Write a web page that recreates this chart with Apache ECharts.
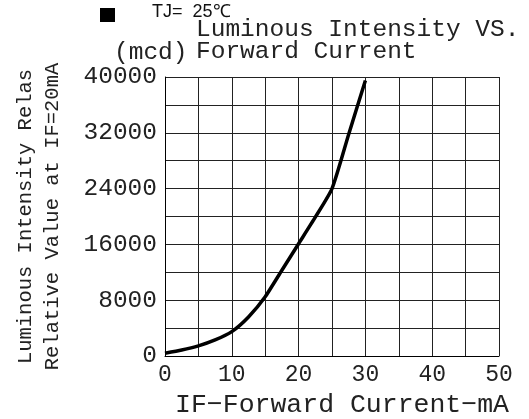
<!DOCTYPE html>
<html>
<head>
<meta charset="utf-8">
<script src="https://cdn.jsdelivr.net/npm/echarts@6/dist/echarts.min.js"></script>
<style>html,body{margin:0;padding:0;background:#fff}#c{width:529px;height:419px}</style>
</head>
<body>
<div id="c"></div>
<script>
var currentMA = [0, 2.5, 5, 7.5, 10, 12.5, 15, 17.5, 20, 22.5, 25, 27.5, 30];
var intensityMcd = [400, 850, 1450, 2300, 3500, 5600, 8500, 12300, 16100, 19900, 24000, 31800, 39500];
var xTickLabels = ['0', '10', '20', '30', '40', '50'];
var yTickLabels = ['0', '8000', '16000', '24000', '32000', '40000'];

var mono = '"Liberation Mono", "DejaVu Sans Mono", monospace';
var chart = echarts.init(document.getElementById('c'), null, {renderer: 'canvas'});
var pts = currentMA.map(function (x, i) { return [x, intensityMcd[i]]; });

chart.setOption({
  backgroundColor: '#fff',
  animation: false,
  grid: {left: 165, right: 30, top: 77, bottom: 63, containLabel: false, outerBoundsMode: 'none'},
  title: [
    {text: 'Luminous Intensity VS.\nForward Current', left: 196, top: 19, padding: 0,
     textStyle: {fontFamily: mono, fontSize: 24.5, fontWeight: 'normal', color: '#222', lineHeight: 22}},
    {text: 'TJ=  25℃', left: 152, top: 3, padding: 0,
     textStyle: {fontFamily: 'Liberation Sans, Arial, sans-serif', fontSize: 18, fontWeight: 'normal', color: '#111'}},
    {text: '(mcd)', left: 114, top: 40, padding: 0,
     textStyle: {fontFamily: mono, fontSize: 24.5, fontWeight: 'normal', color: '#222'}}
  ],
  graphic: [
    {type: 'rect', left: 100, top: 8, shape: {width: 15, height: 14}, style: {fill: '#000'}}
  ],
  xAxis: {
    type: 'value', min: 0, max: 50, interval: 5,
    name: 'IF−Forward Current−mA', nameLocation: 'middle', nameGap: 35,
    nameTextStyle: {fontFamily: mono, fontSize: 26.5, color: '#222', padding: [0, 0, 0, 20]},
    axisLine: {show: true, lineStyle: {color: '#000', width: 1}},
    axisTick: {show: false},
    splitLine: {show: true, lineStyle: {color: '#222', width: 1}},
    axisLabel: {
      margin: 7, fontFamily: mono, fontSize: 23, color: '#222',
      formatter: function (v) { var s = String(v); return xTickLabels.indexOf(s) >= 0 ? s : ''; }
    }
  },
  yAxis: {
    type: 'value', min: 0, max: 40000, interval: 4000,
    name: 'Luminous Intensity Relas\nRelative Value at IF=20mA', nameLocation: 'middle', nameRotate: 90, nameGap: 99,
    nameTextStyle: {fontFamily: mono, fontSize: 20.5, color: '#222', lineHeight: 27},
    axisLine: {show: true, lineStyle: {color: '#000', width: 1}},
    axisTick: {show: false},
    splitLine: {show: true, lineStyle: {color: '#222', width: 1}},
    axisLabel: {
      margin: 8, fontFamily: mono, fontSize: 24.5, color: '#222',
      formatter: function (v) { var s = String(v); return yTickLabels.indexOf(s) >= 0 ? s : ''; }
    }
  },
  series: [{
    type: 'line', data: pts, smooth: 0.2, symbol: 'none',
    lineStyle: {color: '#000', width: 3.5}
  }]
});
</script>
</body>
</html>
